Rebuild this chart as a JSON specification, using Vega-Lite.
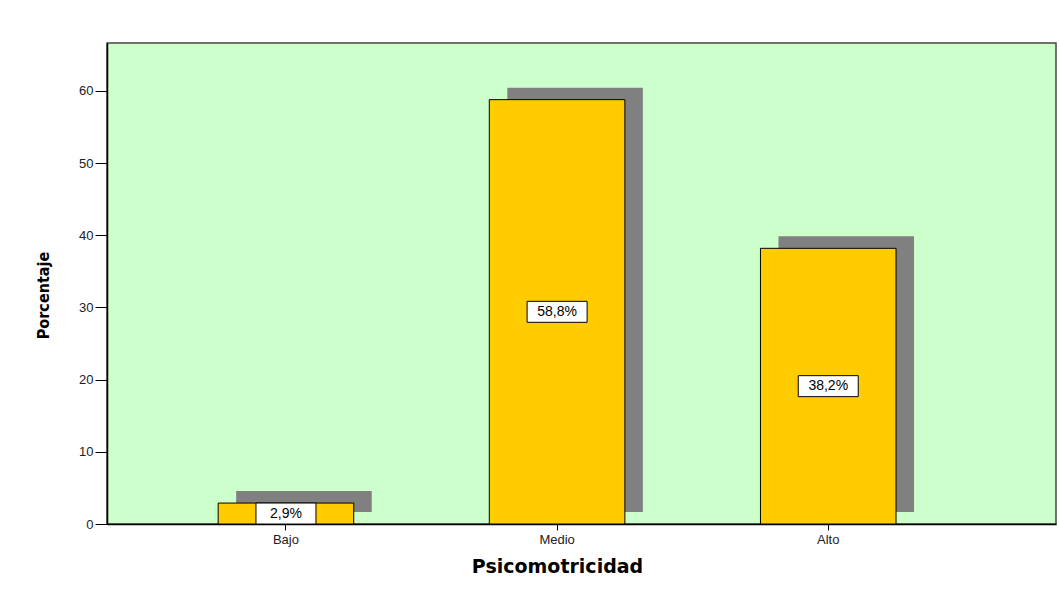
{
  "$schema": "https://vega.github.io/schema/vega-lite/v6.json",
  "autosize": {"type": "none"},
  "width": 949,
  "height": 481,
  "padding": {"left": 107, "top": 43, "right": 4, "bottom": 65},
  "background": "white",
  "config": {
    "view": {"fill": "#CCFFCC", "stroke": "#444444", "strokeWidth": 1.5},
    "font": "Liberation Sans"
  },
  "data": {
    "values": [
      {"nivel": "Bajo", "pct": 2.9, "label": "2,9%"},
      {"nivel": "Medio", "pct": 58.8, "label": "58,8%"},
      {"nivel": "Alto", "pct": 38.2, "label": "38,2%"}
    ]
  },
  "encoding": {
    "x": {
      "field": "nivel",
      "type": "nominal",
      "sort": ["Bajo", "Medio", "Alto"],
      "scale": {"paddingInner": 0.5, "paddingOuter": 0.5, "align": 0.41},
      "axis": {
        "title": "Psicomotricidad",
        "titleFont": "DejaVu Sans",
        "titleFontSize": 19,
        "titleFontWeight": "bold",
        "titleColor": "#000000",
        "titleX": 450,
        "titleY": 52,
        "titleAlign": "center",
        "titleBaseline": "bottom",
        "labelAngle": 0,
        "labelFontSize": 13,
        "labelColor": "#222222",
        "labelPadding": 3,
        "tickSize": 6,
        "tickColor": "#000000",
        "domainColor": "#000000",
        "domainWidth": 1.5
      }
    }
  },
  "layer": [
    {
      "mark": {"type": "bar", "color": "#808080", "xOffset": 18, "yOffset": -12, "y2Offset": -12},
      "encoding": {
        "y": {
          "field": "pct",
          "type": "quantitative",
          "scale": {"domain": [0, 66.65], "nice": false},
          "axis": {
            "title": "Porcentaje",
            "titleFont": "DejaVu Sans Condensed",
            "titleFontSize": 16,
            "titleFontWeight": "bold",
            "titleColor": "#000000",
            "titleX": -56,
            "titleY": 252,
            "values": [0, 10, 20, 30, 40, 50, 60],
            "grid": false,
            "labelFontSize": 13,
            "labelColor": "#222222",
            "labelPadding": 2,
            "tickSize": 12,
            "tickColor": "#000000",
            "domainColor": "#000000",
            "domainWidth": 1.5
          }
        }
      }
    },
    {
      "mark": {"type": "bar", "color": "#FFCC00", "stroke": "#000000", "strokeWidth": 1},
      "encoding": {"y": {"field": "pct", "type": "quantitative"}}
    },
    {
      "mark": {
        "type": "point",
        "shape": "M-1,-0.35L1,-0.35L1,0.35L-1,0.35Z",
        "size": 3600,
        "filled": true,
        "fill": "white",
        "stroke": "#000000",
        "strokeWidth": 1,
        "opacity": 1
      },
      "encoding": {"y": {"field": "pct", "type": "quantitative", "stack": "zero", "bandPosition": 0.5}}
    },
    {
      "mark": {"type": "text", "fontSize": 14, "color": "#000000", "baseline": "middle", "align": "center"},
      "encoding": {
        "y": {"field": "pct", "type": "quantitative", "stack": "zero", "bandPosition": 0.5},
        "text": {"field": "label"}
      }
    }
  ]
}
